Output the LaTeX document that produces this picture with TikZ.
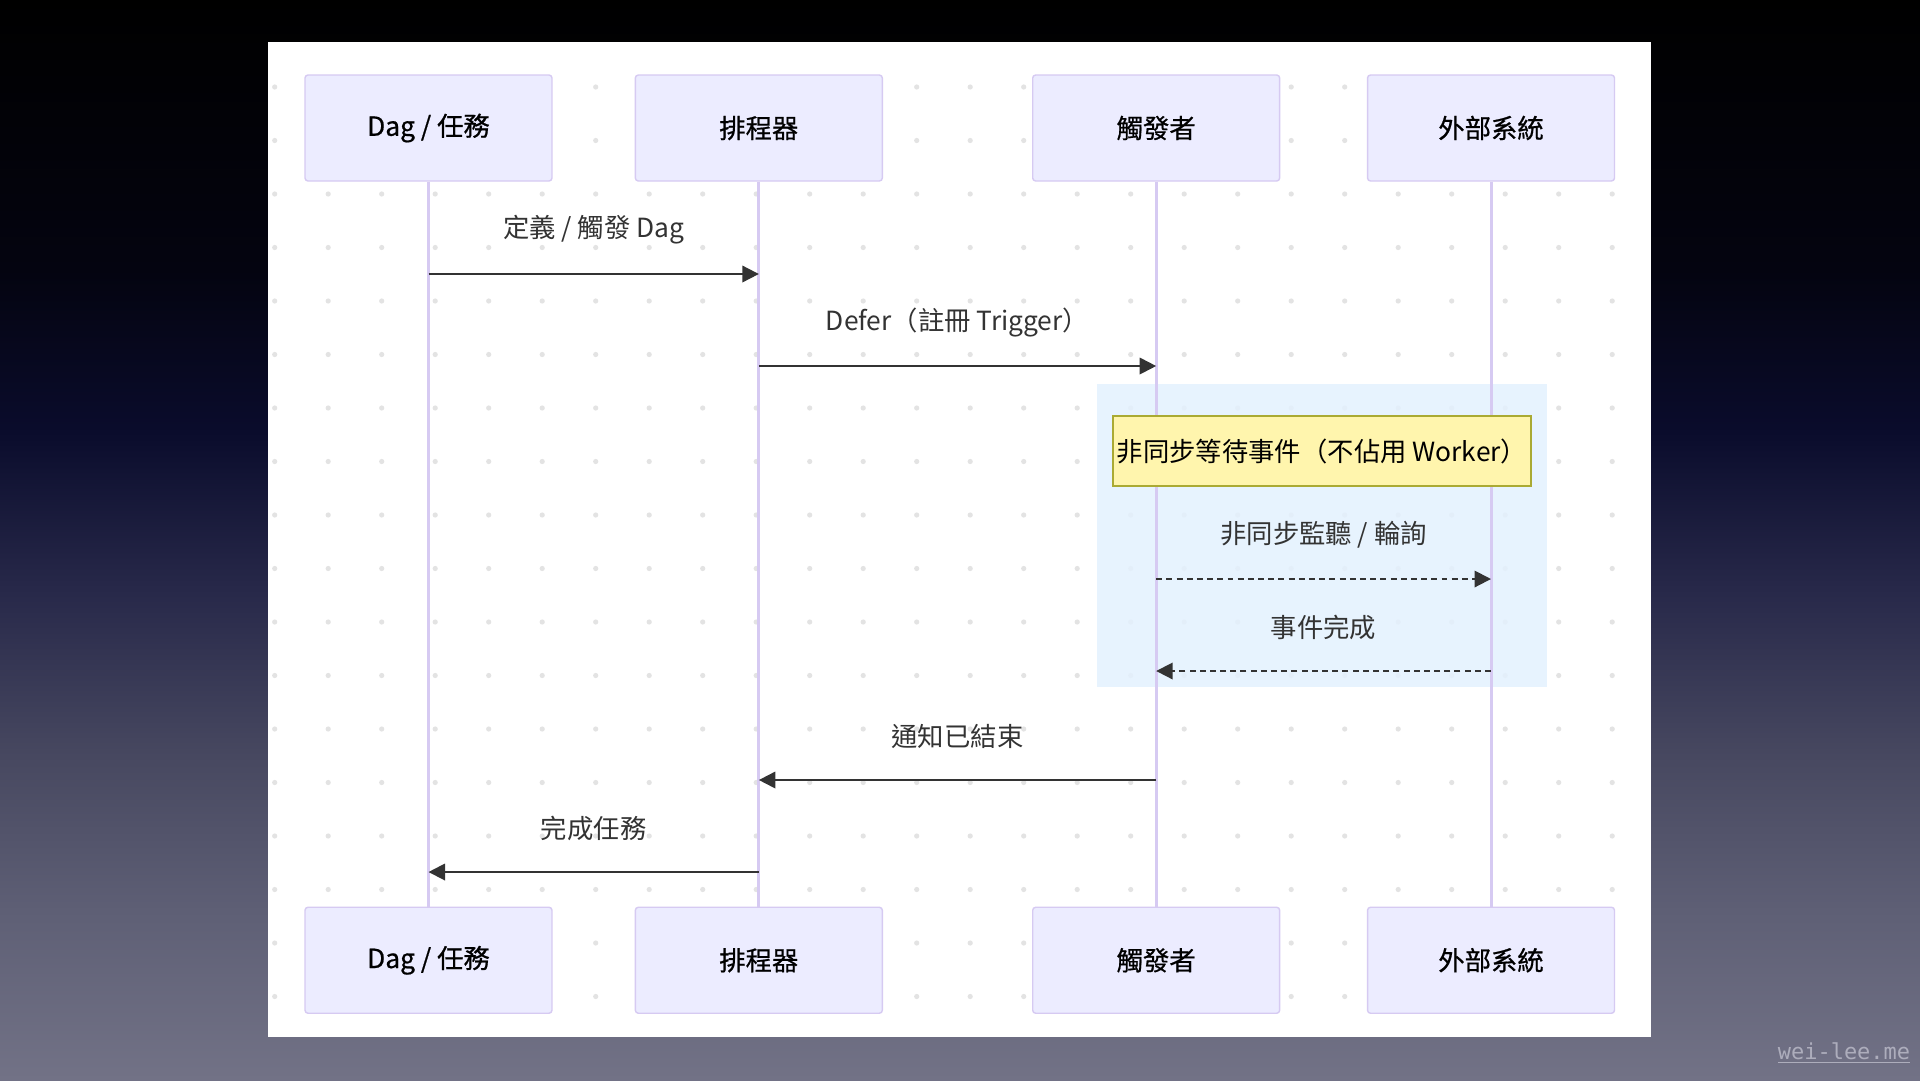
\documentclass[tikz,border=0pt]{standalone}
\usepackage{fontspec}
\setmainfont{Noto Sans CJK TC}
\setmonofont{DejaVu Sans Mono}
\usepackage{tikz}
\usepackage{xcolor}
\usetikzlibrary{arrows.meta,positioning,calc}
\definecolor{actorbg}{HTML}{ECECFF}
\definecolor{actorline}{HTML}{D6CAF2}
\definecolor{ink}{HTML}{333333}
\definecolor{notebg}{HTML}{FFF5AD}
\definecolor{noteline}{HTML}{AAAA33}
\definecolor{waitbg}{HTML}{E3F1FE}
\definecolor{dotc}{HTML}{E3E3E3}
\definecolor{wmark}{HTML}{ADADBC}
\definecolor{bgA}{HTML}{727286}
\definecolor{bgB}{HTML}{5F6076}
\definecolor{bgC}{HTML}{474860}
\definecolor{bgD}{HTML}{28294A}
\definecolor{bgE}{HTML}{0A0C2C}
\definecolor{bgF}{HTML}{040410}
\pgfdeclareverticalshading{slidebg}{100bp}{color(0bp)=(bgA); color(25bp)=(bgA);
  color(32.5bp)=(bgB); color(40bp)=(bgC); color(47.5bp)=(bgD); color(55bp)=(bgE);
  color(62.5bp)=(bgF); color(75bp)=(black); color(100bp)=(black)}
\tikzset{
  actor/.style={draw=actorline, fill=actorbg, rounded corners=1.7pt, line width=0.8pt,
                minimum width=4.94cm, minimum height=2.12cm, inner sep=0pt,
                font=\fontsize{15}{18}\selectfont\addfontfeature{FakeBold=0.7}, text=black},
  lifeline/.style={draw=actorline, line width=1.7pt},
  msg/.style={-{Triangle[length=3.3mm,width=3.3mm]}, line width=1.1pt, draw=ink},
  reply/.style={msg, dash pattern=on 3.4pt off 2.4pt},
  msglabel/.style={font=\fontsize{15}{18}\selectfont, text=ink, inner sep=0pt,
                   midway, yshift=0.88cm},
  notebox/.style={draw=noteline, fill=notebg, line width=0.8pt, minimum width=8.36cm,
                  minimum height=1.4cm, inner sep=0pt,
                  font=\fontsize{15}{18}\selectfont, text=black},
  waitzone/.style={fill=waitbg, fill opacity=0.85, draw=none}
}

\begin{document}
\begin{tikzpicture}[x=0.02cm,y=-0.02cm]
    \useasboundingbox (0,0) rectangle (1920,1080);
    % slide and white panel
    \shade[shading=slidebg] (0,0) rectangle (1920,1080);
    \fill[white] (268,42) rectangle (1651,1037);
    \foreach \i in {0,...,25}
      \foreach \j in {0,...,17}
        \fill[dotc] (274.7+53.5*\i,87+53.5*\j) circle (2.6);

    % async wait area
    \fill[waitzone] (1097,384) rectangle (1547,687);

    % participants
    \node[actor] (dagTop) at (428.5,128) {Dag / 任務};
    \node[actor,right=1.64cm of dagTop] (schTop) {排程器};
    \node[actor,right=2.98cm of schTop] (trgTop) {觸發者};
    \node[actor,right=1.73cm of trgTop] (extTop) {外部系統};
    \node[actor,below=14.5cm of dagTop] (dagBot) {Dag / 任務};
    \node[actor,below=14.5cm of schTop] (schBot) {排程器};
    \node[actor,below=14.5cm of trgTop] (trgBot) {觸發者};
    \node[actor,below=14.5cm of extTop] (extBot) {外部系統};
    \foreach \who in {dag,sch,trg,ext}
      \draw[lifeline] (\who Top) -- (\who Bot);

    \node[notebox] (waitNote) at (1322,451) {非同步等待事件（不佔用 Worker）};

    % messages
    \draw[msg] (dagTop |- 0,274) -- (schTop |- 0,274)
      node[msglabel] (lbDefine) {定義 / 觸發 Dag};
    \draw[msg] (schTop |- 0,366) -- (trgTop |- 0,366)
      node[msglabel] (lbDefer) {Defer（註冊 Trigger）};
    \draw[reply] (trgTop |- 0,579) -- (extTop |- 0,579)
      node[msglabel] (lbListen) {非同步監聽 / 輪詢};
    \draw[reply] (extTop |- 0,671) -- (trgTop |- 0,671)
      node[msglabel] (lbEvent) {事件完成};
    \draw[msg] (trgTop |- 0,780) -- (schTop |- 0,780)
      node[msglabel] (lbNotify) {通知已結束};
    \draw[msg] (schTop |- 0,872) -- (dagTop |- 0,872)
      node[msglabel] (lbDone) {完成任務};

    \node[font=\ttfamily\fontsize{12.5}{14}\selectfont,text=wmark] (credit)
      at (1844,1053) {\underline{wei-lee.me}};
\end{tikzpicture}
\end{document}
